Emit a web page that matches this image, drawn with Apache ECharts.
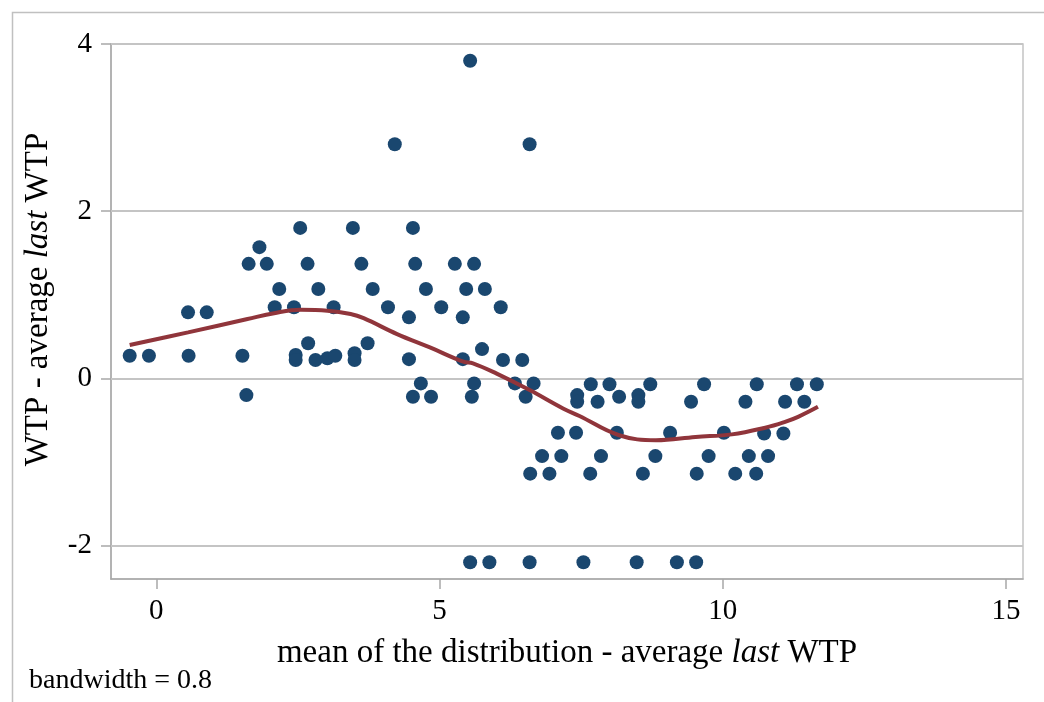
<!DOCTYPE html>
<html>
<head>
<meta charset="utf-8">
<script src="https://cdn.jsdelivr.net/npm/echarts@6/dist/echarts.min.js"></script>
<style>html,body{margin:0;padding:0;background:#fff;}#chart{width:1044px;height:702px;}</style>
</head>
<body>
<div id="chart"></div>
<script>
// Scatter points: x = mean of distribution - average last WTP, y = WTP - average last WTP
const pointX = [-0.47,-0.13,0.56,0.89,0.57,1.52,1.59,1.63,1.82,1.95,2.17,2.09,2.43,2.54,2.67,2.86,3.13,2.68,2.46,2.46,2.81,3.02,3.16,3.47,3.5,3.5,
  3.62,3.73,3.82,4.09,4.21,4.53,4.57,4.46,4.46,4.76,4.67,4.53,4.85,5.03,5.27,5.61,5.47,5.8,5.41,5.41,5.75,5.61,5.57,5.54,
  6.08,6.12,6.46,6.33,6.66,6.52,6.59,7.43,7.43,7.67,7.79,8.0,8.17,8.51,8.51,8.72,9.44,9.67,
  7.09,7.41,8.13,9.07,10.02,10.73,11.07,6.81,7.15,7.85,8.81,9.75,10.46,10.8,
  6.6,6.94,7.66,8.59,9.54,10.22,10.59,10.6,11.31,11.66,10.4,11.1,11.44,
  5.54,5.88,6.59,7.54,8.48,9.19,9.53];
const pointY = [0.27,0.27,0.79,0.79,0.27,0.27,-0.2,1.37,1.57,1.37,1.07,0.85,0.85,1.8,1.37,1.07,0.85,0.42,0.28,0.22,0.22,0.24,0.27,1.8,0.3,0.22,
  1.37,0.42,1.07,0.85,2.8,1.8,1.37,0.73,0.23,1.07,-0.06,-0.22,-0.22,0.85,1.37,1.37,1.07,1.07,0.73,0.23,0.35,-0.06,-0.22,3.8,
  0.85,0.22,0.22,-0.06,-0.06,-0.22,2.8,-0.2,-0.28,-0.07,-0.28,-0.07,-0.22,-0.2,-0.28,-0.07,-0.28,-0.07,
  -0.65,-0.65,-0.65,-0.65,-0.65,-0.66,-0.66,-0.93,-0.93,-0.93,-0.93,-0.93,-0.93,-0.93,
  -1.14,-1.14,-1.14,-1.14,-1.14,-1.14,-1.14,-0.07,-0.07,-0.07,-0.28,-0.28,-0.28,
  -2.2,-2.2,-2.2,-2.2,-2.2,-2.2,-2.2];
// Lowess smoother (bandwidth 0.8)
const curveX = [-0.47,0.56,1.61,2.08,2.55,3.02,3.43,3.66,4.25,4.83,5.42,5.59,6.0,6.59,7.18,7.47,8.17,8.82,9.52,10.16,10.75,11.1,11.33,11.68];
const curveY = [0.40,0.55,0.71,0.78,0.82,0.81,0.77,0.72,0.53,0.37,0.20,0.18,0.06,-0.14,-0.36,-0.45,-0.68,-0.74,-0.70,-0.67,-0.59,-0.52,-0.46,-0.34];
// Axis ticks
const xTicks = [0,5,10,15];
const yTicks = [-2,0,2,4];

const FONT = 'Liberation Serif';
const chart = echarts.init(document.getElementById('chart'), null, {renderer:'canvas'});
const scatterData = pointX.map((x,i)=>[x,pointY[i]]);
const curveData = curveX.map((x,i)=>[x,curveY[i]]);
const axisCol = '#a8a8a8';
chart.setOption({
  animation:false,
  backgroundColor:'#fff',
  grid:{left:111,right:21,top:44,bottom:123,show:true,borderColor:'#c4c4c4',borderWidth:1.5,backgroundColor:'transparent'},
  graphic:[
    {type:'rect',left:10,top:10,shape:{width:1100,height:800},style:{fill:'none',stroke:'#c0c0c0',lineWidth:1.5},silent:true},
    {type:'text',left:29,top:667,style:{text:'bandwidth = 0.8',font:'28px "'+FONT+'"',fill:'#000'}}
  ],
  xAxis:{
    type:'value',min:-0.8,max:15.3,
    name:'mean of the distribution - average {i|last} WTP',nameLocation:'middle',nameGap:58,
    nameTextStyle:{fontFamily:FONT,fontSize:33,color:'#000',rich:{i:{fontStyle:'italic',fontFamily:FONT,fontSize:33,color:'#000'}}},
    axisLine:{show:true,onZero:false,lineStyle:{color:axisCol,width:1.5}},
    axisTick:{show:true,length:10,customValues:xTicks,lineStyle:{color:axisCol,width:1.5}},
    axisLabel:{customValues:xTicks,fontFamily:FONT,fontSize:29,color:'#000',margin:18},
    splitLine:{show:false}
  },
  yAxis:{
    type:'value',min:-2.4,max:4,
    name:'WTP - average {i|last} WTP',nameLocation:'middle',nameGap:56,
    nameTextStyle:{fontFamily:FONT,fontSize:33,color:'#000',padding:[0,0,0,24],rich:{i:{fontStyle:'italic',fontFamily:FONT,fontSize:33,color:'#000'}}},
    axisLine:{show:true,onZero:false,lineStyle:{color:axisCol,width:1.5}},
    axisTick:{show:true,length:10,customValues:yTicks,lineStyle:{color:axisCol,width:1.5}},
    axisLabel:{customValues:yTicks,fontFamily:FONT,fontSize:29,color:'#000',margin:19},
    splitLine:{show:false}
  },
  series:[
    {type:'scatter',data:scatterData,symbol:'circle',symbolSize:14,itemStyle:{color:'#1a476f',opacity:1},z:2,
     markLine:{silent:true,symbol:'none',label:{show:false},lineStyle:{color:'#c4c4c4',width:2,type:'solid'},
       data:yTicks.map(v=>({yAxis:v})),z:1}},
    {type:'line',data:curveData,showSymbol:false,smooth:0.4,lineStyle:{color:'#90353b',width:4},z:3}
  ]
});
</script>
</body>
</html>
